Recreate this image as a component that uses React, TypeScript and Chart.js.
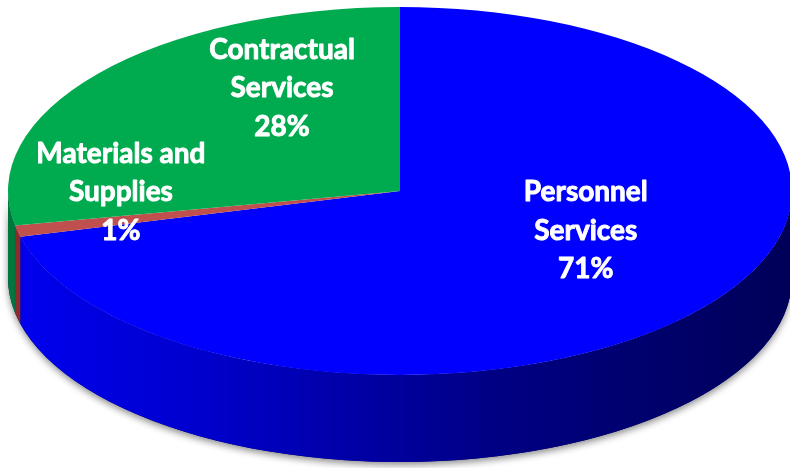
import React, { useEffect, useRef } from "react";
import { Chart, registerables } from "chart.js";

Chart.register(...registerables);

// ---- data ----
const categories = ["Personnel Services", "Materials and Supplies", "Contractual Services"];
const categoryLines = [["Personnel", "Services"], ["Materials and", "Supplies"], ["Contractual", "Services"]];
const shares = [71, 1, 28];

// ---- styles ----
const topColors = ["#0000FF", "#C0504D", "#00AA4F"];
const sideColors = ["#000090", "#8C2C2A", "#00783A"];
const blueSideStops: [number, string][] = [
  [0, "#0000F0"],
  [0.25, "#0000CC"],
  [0.45, "#0000A4"],
  [0.62, "#000084"],
  [1, "#000058"],
];
const ELLIPSE_RX = 392;
const ELLIPSE_RY = 184;
const DEPTH = 87;
const FONT = "bold 28px Lato, 'Open Sans', sans-serif";
const LINE_H = 38.5;
// label anchors relative to ellipse center, in units of rx / ry (first baseline)
const labelAnchors = [
  [0.474, 0.055],
  [-0.712, -0.154],
  [-0.301, -0.72],
];

const pie3d = {
  id: "pie3d",
  beforeDatasetsDraw(chart: any) {
    const meta = chart.getDatasetMeta(0);
    const arcs = meta.data;
    if (!arcs.length) return;
    const { x, y, outerRadius: r } = arcs[0].getProps(["x", "y", "outerRadius"]);
    const sx = ELLIPSE_RX / r;
    const sy = ELLIPSE_RY / r;
    const ctx: CanvasRenderingContext2D = chart.ctx;
    ctx.save();
    ctx.translate(x, y);
    ctx.scale(sx, sy);
    ctx.translate(-x, -y);
    const d = DEPTH / sy;

    // shadow under the front wall
    ctx.save();
    ctx.shadowColor = "rgba(0,0,0,0.45)";
    ctx.shadowBlur = 7;
    ctx.shadowOffsetY = 3;
    ctx.beginPath();
    ctx.arc(x, y, r, 0, Math.PI);
    ctx.arc(x, y + d, r, Math.PI, 0, true);
    ctx.closePath();
    ctx.fillStyle = "#000070";
    ctx.fill();
    ctx.restore();

    arcs.forEach((arc: any, i: number) => {
      const { startAngle: a0, endAngle: a1 } = arc.getProps(["startAngle", "endAngle"]);
      for (const k of [-2 * Math.PI, 0, 2 * Math.PI]) {
        const s = Math.max(a0, k);
        const e = Math.min(a1, k + Math.PI);
        if (e <= s) continue;
        ctx.beginPath();
        ctx.arc(x, y, r, s, e);
        ctx.arc(x, y + d, r, e, s, true);
        ctx.closePath();
        if (i === 0) {
          const g = ctx.createLinearGradient(x - r, 0, x + r, 0);
          blueSideStops.forEach(([o, c]) => g.addColorStop(o, c));
          ctx.fillStyle = g;
        } else {
          ctx.fillStyle = sideColors[i];
        }
        ctx.fill();
      }
    });
    // keep the transform for the top faces drawn by Chart.js
  },
  afterDatasetsDraw(chart: any) {
    const meta = chart.getDatasetMeta(0);
    if (!meta.data.length) return;
    chart.ctx.restore();
  },
  afterDraw(chart: any) {
    const meta = chart.getDatasetMeta(0);
    if (!meta.data.length) return;
    const { x, y } = meta.data[0].getProps(["x", "y"]);
    const ctx: CanvasRenderingContext2D = chart.ctx;
    ctx.save();
    ctx.font = FONT;
    ctx.fillStyle = "#FFFFFF";
    ctx.strokeStyle = "#FFFFFF";
    ctx.lineWidth = 0.9;
    ctx.lineJoin = "round";
    ctx.textAlign = "center";
    ctx.textBaseline = "alphabetic";
    categories.forEach((_, i) => {
      const lines = [...categoryLines[i], `${shares[i]}%`];
      const lx = x + labelAnchors[i][0] * ELLIPSE_RX;
      const ly = y + labelAnchors[i][1] * ELLIPSE_RY;
      lines.forEach((t, j) => {
        ctx.fillText(t, lx, ly + j * LINE_H);
        ctx.strokeText(t, lx, ly + j * LINE_H);
      });
    });
    ctx.restore();
  },
};

export default function App() {
  const ref = useRef<HTMLCanvasElement | null>(null);
  useEffect(() => {
    if (!ref.current) return;
    const chart = new Chart(ref.current, {
      type: "pie",
      data: {
        labels: categories,
        datasets: [
          {
            data: shares,
            backgroundColor: topColors,
            borderWidth: 0,
            hoverOffset: 0,
            clip: false as any,
          },
        ],
      },
      options: {
        animation: false,
        responsive: true,
        maintainAspectRatio: false,
        events: [],
        layout: { padding: { left: 10, right: 0, top: 0, bottom: 86 } },
        plugins: {
          legend: { display: false },
          tooltip: { enabled: false },
        },
      },
      plugins: [pie3d],
    });
    return () => chart.destroy();
  }, []);
  return (
    <div style={{ position: "absolute", left: 0, top: 0, width: 790, height: 468, background: "#fff" }}>
      <canvas ref={ref} />
    </div>
  );
}
